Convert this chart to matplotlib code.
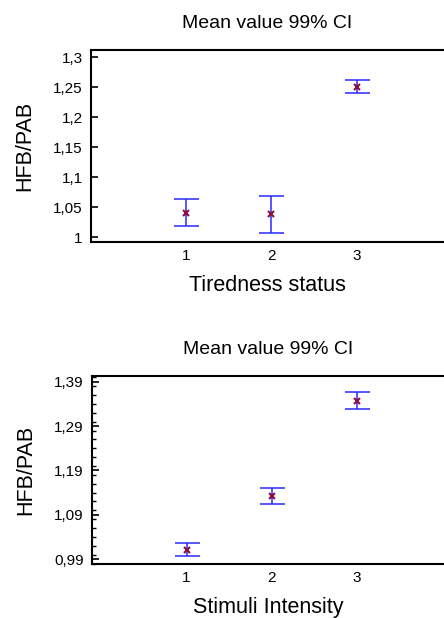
import matplotlib.pyplot as plt
from matplotlib.ticker import FixedLocator, MultipleLocator

plt.rcParams["font.family"] = ["Liberation Sans", "DejaVu Sans"]

groups = [1, 2, 3]

# top panel: tiredness status
tired_mean = [1.040, 1.038, 1.251]
tired_low = [1.019, 1.007, 1.240]
tired_high = [1.063, 1.069, 1.262]
tired_yticks = [1.0, 1.05, 1.1, 1.15, 1.2, 1.25, 1.3]
tired_ylabels = ["1", "1,05", "1,1", "1,15", "1,2", "1,25", "1,3"]

# bottom panel: stimuli intensity
stim_mean = [1.011, 1.133, 1.347]
stim_low = [0.997, 1.115, 1.329]
stim_high = [1.026, 1.151, 1.366]
stim_yticks = [0.99, 1.09, 1.19, 1.29, 1.39]
stim_ylabels = ["0,99", "1,09", "1,19", "1,29", "1,39"]


def draw_panel(ax, mean, low, high, yticks, ylabels, ylim, xlabel, minor=None):
    yerr = [[m - lo for m, lo in zip(mean, low)], [hi - m for m, hi in zip(mean, high)]]
    ax.errorbar(groups, mean, yerr=yerr, fmt="none", ecolor="#2a2aff",
                elinewidth=1.3, capsize=9, capthick=1.3, alpha=0.85)
    ax.plot(groups, mean, linestyle="none", marker="x", markersize=4,
            markeredgewidth=1.5, color="#8b1040")
    ax.set_xlim(-0.11, 4.02)
    ax.set_ylim(*ylim)
    ax.set_xticks(groups)
    ax.set_xticklabels([str(g) for g in groups], fontsize=11)
    ax.yaxis.set_major_locator(FixedLocator(yticks))
    ax.set_yticklabels(ylabels, fontsize=11)
    if minor:
        ax.yaxis.set_minor_locator(MultipleLocator(minor))
        ax.tick_params(axis="y", which="minor", direction="in", length=3, width=1)
    ax.tick_params(axis="y", which="major", direction="in", length=5, width=1.2, pad=6)
    ax.tick_params(axis="x", length=0, pad=5)
    ax.spines["right"].set_visible(False)
    for s in ["left", "top", "bottom"]:
        ax.spines[s].set_linewidth(1.5)
    ax.set_title("Mean value 99% CI", fontsize=14, pad=16)
    ax.set_xlabel(xlabel, fontsize=15.5, labelpad=9)
    ax.set_ylabel("HFB/PAB", fontsize=15.5, labelpad=13)


fig = plt.figure(figsize=(4.44, 6.18), dpi=100)
ax1 = fig.add_axes([91 / 444, 1 - 242 / 618, 1 - 91 / 444, 192 / 618])
ax2 = fig.add_axes([92 / 444, 1 - 564 / 618, 1 - 92 / 444, 188 / 618])

draw_panel(ax1, tired_mean, tired_low, tired_high, tired_yticks, tired_ylabels,
           (0.9917, 1.312), "Tiredness status")
draw_panel(ax2, stim_mean, stim_low, stim_high, stim_yticks, stim_ylabels,
           (0.979, 1.403), "Stimuli Intensity", minor=0.02)

fig.savefig("out.png", dpi=100)
